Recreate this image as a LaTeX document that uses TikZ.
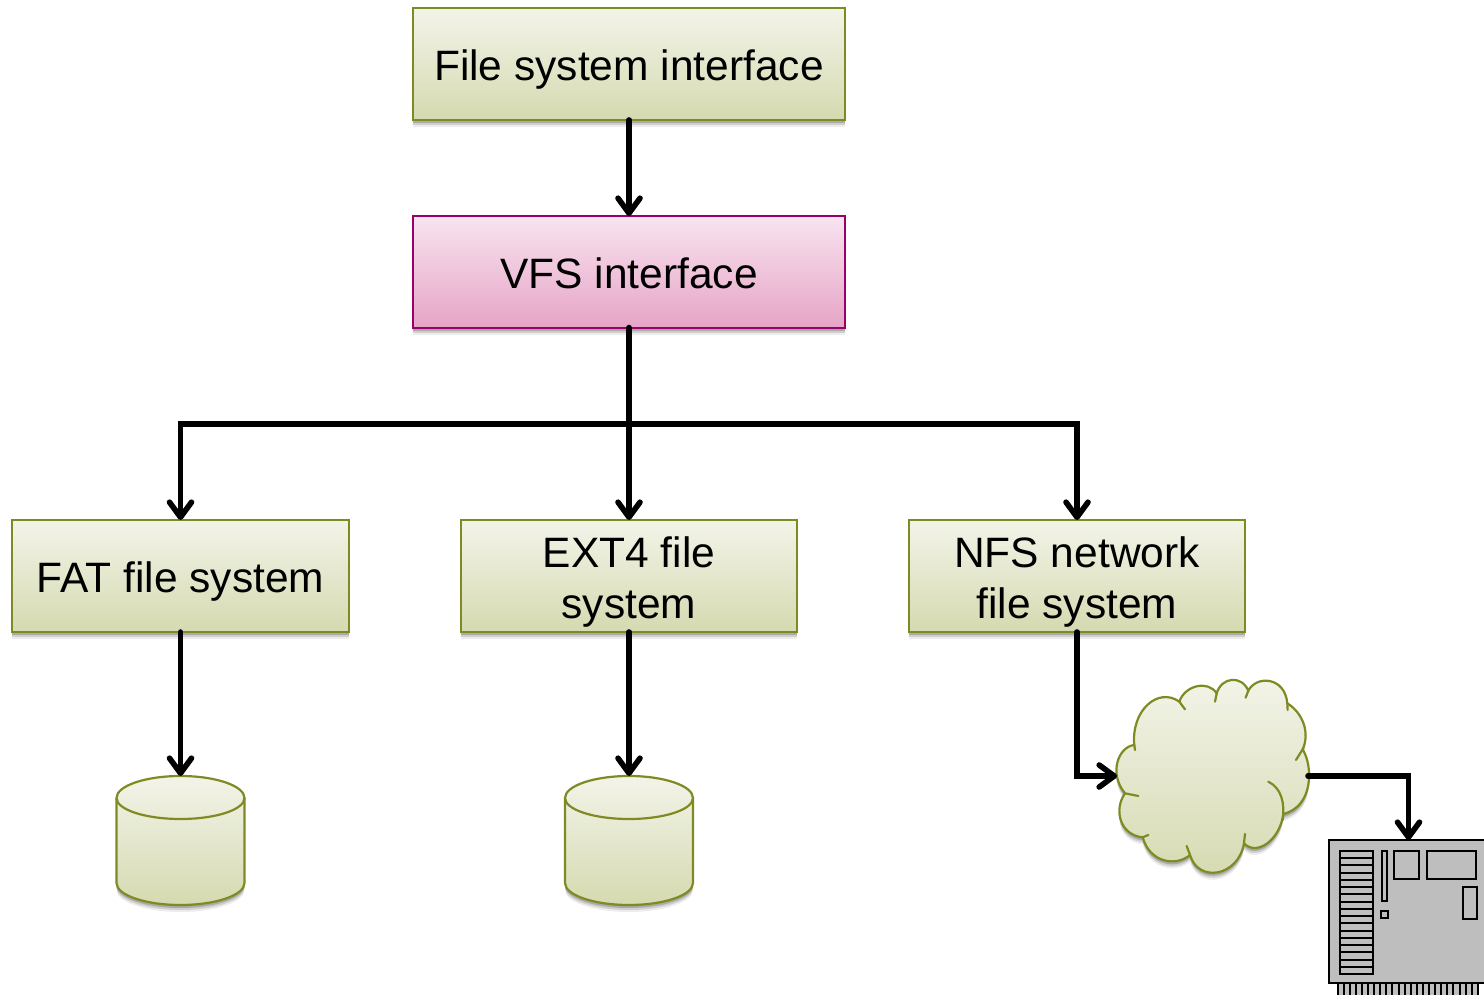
\documentclass[tikz,border=0pt]{standalone}
\usepackage{fontspec}
\setmainfont{Liberation Sans}
\usetikzlibrary{arrows.meta,shadows}
\definecolor{olbord}{HTML}{7F8A22}
\definecolor{oltop}{HTML}{F3F4E9}
\definecolor{olbot}{HTML}{D5DAB0}
\definecolor{mgbord}{HTML}{98006A}
\definecolor{mgtop}{HTML}{F8E4F0}
\definecolor{mgbot}{HTML}{E6A4C6}
\definecolor{boardgrey}{HTML}{BEBEBE}
\tikzset{
  softshadow/.style={general shadow={fill=black,opacity=.07,shadow yshift=-7pt,shadow xshift=0pt},
                     general shadow={fill=black,opacity=.12,shadow yshift=-5pt,shadow xshift=0pt},
                     general shadow={fill=black,opacity=.18,shadow yshift=-3pt,shadow xshift=0pt}},
  olive/.style={draw=olbord,line width=2.2pt,top color=oltop,bottom color=olbot,softshadow},
  fsbox/.style={olive,shape=rectangle,inner sep=0pt,outer sep=0pt,align=center,
     font=\fontsize{42.5}{51.5}\selectfont,text=black,text depth=0pt,text height=34pt},
  onelow/.style={text height=32pt},
  twolines/.style={text height=85pt},
  vfsbox/.style={fsbox,draw=mgbord,top color=mgtop,bottom color=mgbot},
  conn/.style={line width=5.6pt,draw=black,line cap=round,miter limit=10},
  arr/.style={conn,-{Straight Barb[length=15pt,width=22pt,round]}},
  boardline/.style={draw=black,line width=2pt}
}
\begin{document}
\begin{tikzpicture}[x=1pt,y=-1pt]
\useasboundingbox (0,0) rectangle (1484,995);
\fill[white] (0,0) rectangle (1484,995);
\begin{scope}
\clip (0,0) rectangle (1484,995);
% boxes
\node[fsbox,minimum width=432pt,minimum height=112pt] (fsi) at (629,64) {File system interface};
\node[vfsbox,minimum width=432pt,minimum height=112pt] (vfs) at (629,272) {VFS interface};
\node[fsbox,onelow,minimum width=337pt,minimum height=112pt] (fat) at (180.5,576) {FAT file system};
\node[fsbox,twolines,minimum width=336pt,minimum height=112pt] (ext) at (629,576) {EXT4 file\\system};
\node[fsbox,twolines,minimum width=336pt,minimum height=112pt] (nfs) at (1077,576) {NFS network\\file system};
% disks
\foreach \cx/\nm in {180.5/diskfat,629/diskext}{
  \path[olive] (\cx-64,798) -- (\cx-64,883) arc[start angle=180,end angle=360,x radius=64,y radius=-22]
     -- (\cx+64,798) arc[start angle=0,end angle=180,x radius=64,y radius=-22] -- cycle;
  \draw[olbord,line width=2.2pt] (\cx-64,798) arc[start angle=180,end angle=360,x radius=64,y radius=-21];
  \coordinate (\nm) at (\cx,776);
}
% cloud
\begin{scope}[xshift=1100pt,yshift=-660pt,x=.3333pt,y=-.3333pt]
\path[olive] (103,258) .. controls (92,150) and (175,80) .. (238,125)
  .. controls (255,75) and (325,60) .. (350,100)
  .. controls (365,50) and (425,45) .. (445,92)
  .. controls (470,45) and (555,50) .. (562,130)
  .. controls (610,160) and (630,220) .. (608,268)
  .. controls (640,320) and (640,440) .. (550,462)
  .. controls (540,540) and (470,590) .. (432,550)
  .. controls (415,650) and (295,670) .. (270,585)
  .. controls (230,620) and (150,610) .. (128,532)
  .. controls (60,525) and (40,450) .. (75,400)
  .. controls (25,340) and (55,260) .. (103,255) -- cycle;
\draw[olbord,line width=2.2pt,line cap=round]
  (238,125) -- (255,148)
  (350,100) -- (345,125)
  (445,92) -- (437,113)
  (562,130) -- (563,150)
  (608,268) -- (588,300)
  (505,365) .. controls (545,385) and (555,430) .. (548,480)
  (432,550) -- (435,522)
  (270,585) -- (260,558)
  (128,532) -- (145,525)
  (75,400) -- (115,408)
  (103,255) -- (105,270);
\end{scope}
\coordinate (cloudin) at (1117,776);
\coordinate (cloudout) at (1308,776);
% board
\draw[boardline,fill=boardgrey] (1329,840) rectangle (1490,983);
\coordinate (boardtop) at (1408.5,840);
\fill[boardgrey] (1337,984) rectangle (1479,995);
\foreach \i in {0,...,23}{ \draw[black,line width=2pt] (1337.5+\i*6.1,984) -- (1337.5+\i*6.1,995); }
\draw[boardline] (1340,851) rectangle (1373,974);
\foreach \i in {1,...,16}{ \draw[black,line width=2pt] (1340,851+\i*7.24) -- (1373,851+\i*7.24); }
\draw[boardline] (1382,851) rectangle (1387,901);
\draw[boardline] (1394,851) rectangle (1419,879);
\draw[boardline] (1427,851) rectangle (1476,879);
\draw[boardline] (1463,887) rectangle (1477,919);
\draw[boardline] (1381,911) rectangle (1388,918);
\end{scope}
% connectors
\coordinate (bus) at (629,424);
\draw[arr] (fsi.south) -- (vfs.north);
\draw[conn,line width=6.6pt] (vfs.south) -- (bus);
\draw[arr] (bus) -| (fat.north);
\draw[arr] (bus) -- (ext.north);
\draw[arr] (bus) -| (nfs.north);
\draw[arr] (fat.south) -- (diskfat);
\draw[arr] (ext.south) -- (diskext);
\draw[arr] (nfs.south) |- (cloudin);
\draw[arr] (cloudout) -| (boardtop);
\end{tikzpicture}
\end{document}
